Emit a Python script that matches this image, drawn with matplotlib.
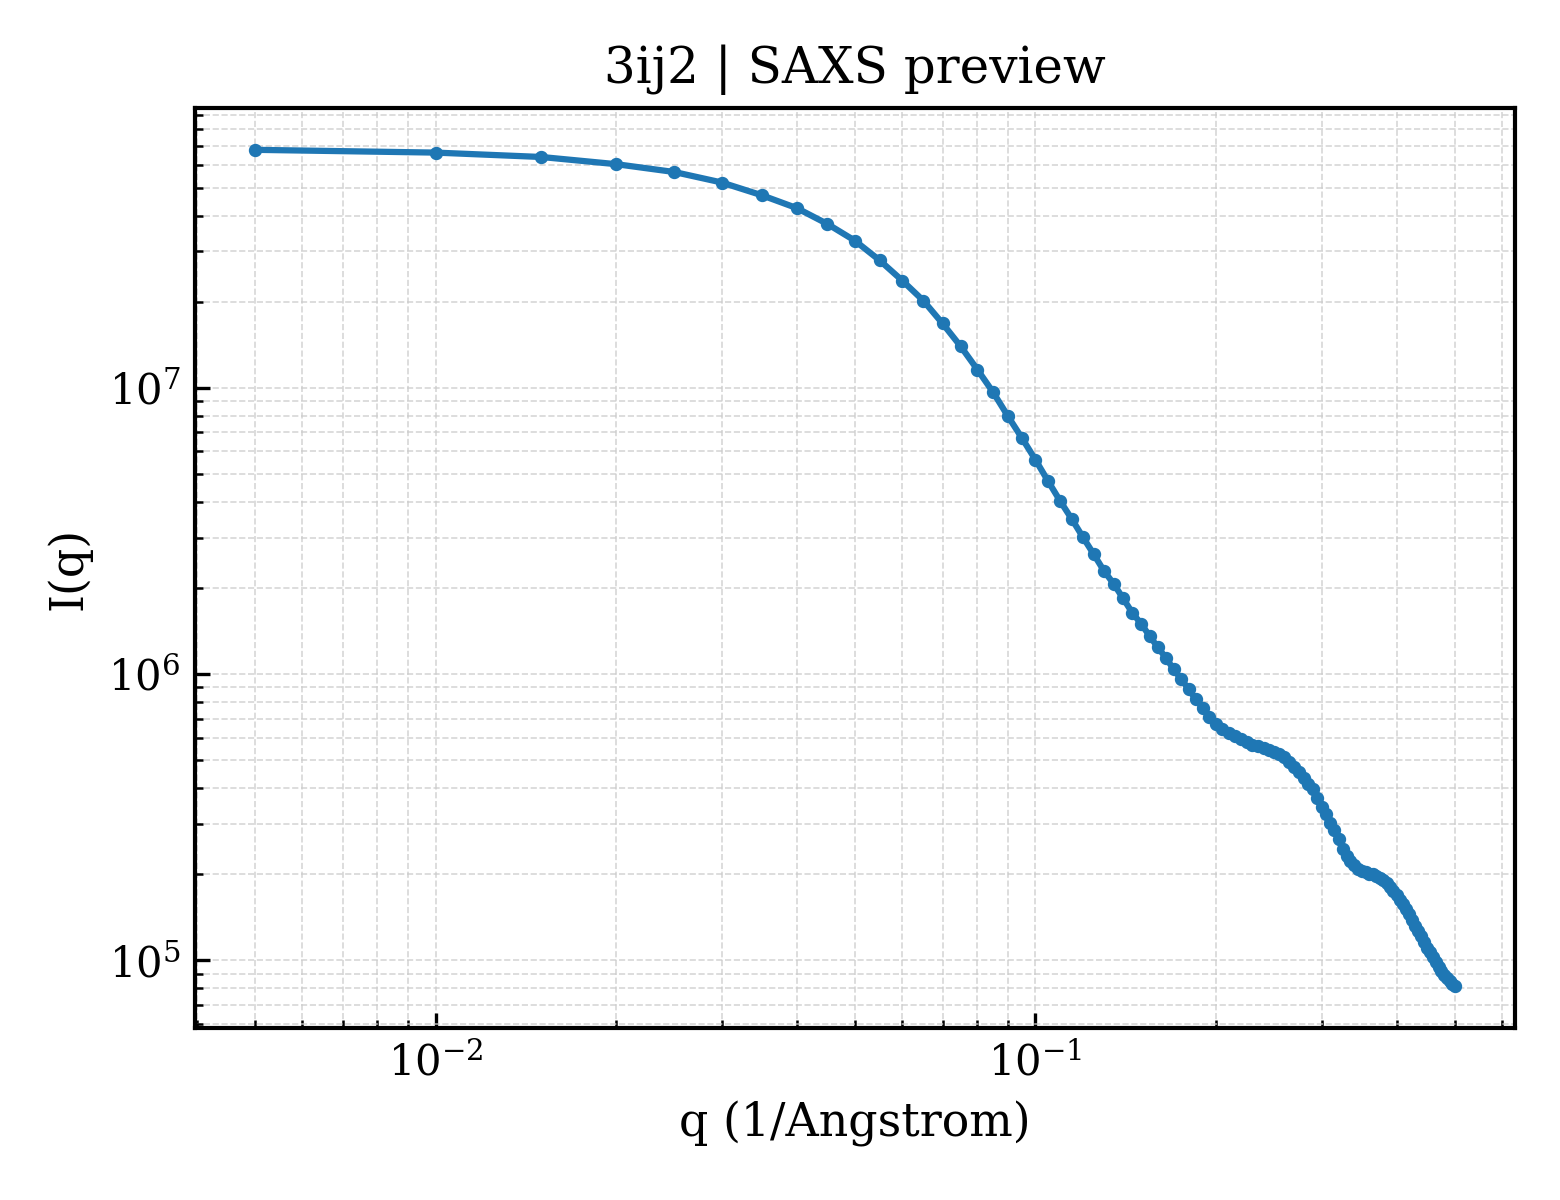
import numpy as np
import matplotlib
matplotlib.use("Agg")
import matplotlib.pyplot as plt

plt.rcParams['font.family'] = 'DejaVu Serif'
plt.rcParams['mathtext.fontset'] = 'dejavuserif'

# scattering vector (1/Angstrom)
q = [0.005, 0.010, 0.015, 0.020, 0.025, 0.030, 0.035, 0.040, 0.045, 0.050,
     0.055, 0.060, 0.065, 0.070, 0.075, 0.080, 0.085, 0.090, 0.095, 0.100,
     0.105, 0.110, 0.115, 0.120, 0.125, 0.130, 0.135, 0.140, 0.145, 0.150,
     0.155, 0.160, 0.165, 0.170, 0.175, 0.180, 0.185, 0.190, 0.195, 0.200,
     0.205, 0.210, 0.215, 0.220, 0.225, 0.230, 0.235, 0.240, 0.245, 0.250,
     0.255, 0.260, 0.265, 0.270, 0.275, 0.280, 0.285, 0.290, 0.295, 0.300,
     0.305, 0.310, 0.315, 0.320, 0.325, 0.330, 0.335, 0.340, 0.345, 0.350,
     0.355, 0.360, 0.365, 0.370, 0.375, 0.380, 0.385, 0.390, 0.395, 0.400,
     0.405, 0.410, 0.415, 0.420, 0.425, 0.430, 0.435, 0.440, 0.445, 0.450,
     0.455, 0.460, 0.465, 0.470, 0.475, 0.480, 0.485, 0.490, 0.495, 0.500]

# intensity
intensity = [6.79e7, 6.64e7, 6.41e7, 6.05e7, 5.68e7, 5.22e7, 4.71e7, 4.25e7, 3.74e7, 3.27e7,
             2.79e7, 2.37e7, 2.02e7, 1.68e7, 1.40e7, 1.16e7, 9.66e6, 7.96e6, 6.67e6, 5.61e6,
             4.72e6, 4.02e6, 3.48e6, 3.01e6, 2.63e6, 2.30e6, 2.07e6, 1.84e6, 1.64e6, 1.50e6,
             1.36e6, 1.24e6, 1.14e6, 1.04e6, 9.60e5, 8.87e5, 8.17e5, 7.62e5, 7.08e5, 6.68e5,
             6.46e5, 6.24e5, 6.07e5, 5.92e5, 5.78e5, 5.68e5, 5.60e5, 5.52e5, 5.45e5, 5.37e5,
             5.27e5, 5.15e5, 4.95e5, 4.76e5, 4.57e5, 4.35e5, 4.15e5, 3.96e5, 3.70e5, 3.45e5,
             3.24e5, 3.02e5, 2.85e5, 2.66e5, 2.45e5, 2.32e5, 2.23e5, 2.15e5, 2.09e5, 2.05e5,
             2.03e5, 2.01e5, 2.00e5, 1.97e5, 1.94e5, 1.91e5, 1.87e5, 1.81e5, 1.75e5, 1.69e5,
             1.63e5, 1.57e5, 1.51e5, 1.45e5, 1.39e5, 1.32e5, 1.27e5, 1.22e5, 1.16e5, 1.11e5,
             1.07e5, 1.03e5, 9.89e4, 9.51e4, 9.16e4, 8.91e4, 8.67e4, 8.45e4, 8.28e4, 8.13e4]

fig, ax = plt.subplots(figsize=(5.2, 4), dpi=300)
fig.subplots_adjust(left=0.125, right=0.971, top=0.91, bottom=0.1433)

ax.loglog(q, intensity, '-o', color='#1f77b4', lw=1.5, ms=2.2)

ax.set_xlabel("q (1/Angstrom)", fontsize=11)
ax.set_ylabel("I(q)", fontsize=11)
ax.set_title("3ij2 | SAXS preview", fontsize=12)
ax.tick_params(which='both', direction='in', labelsize=10)
ax.grid(True, which='both', ls='--', lw=0.4, color='#cccccc', alpha=0.8)
for s in ax.spines.values():
    s.set_linewidth(1.0)

plt.savefig("out.png", dpi=300)
